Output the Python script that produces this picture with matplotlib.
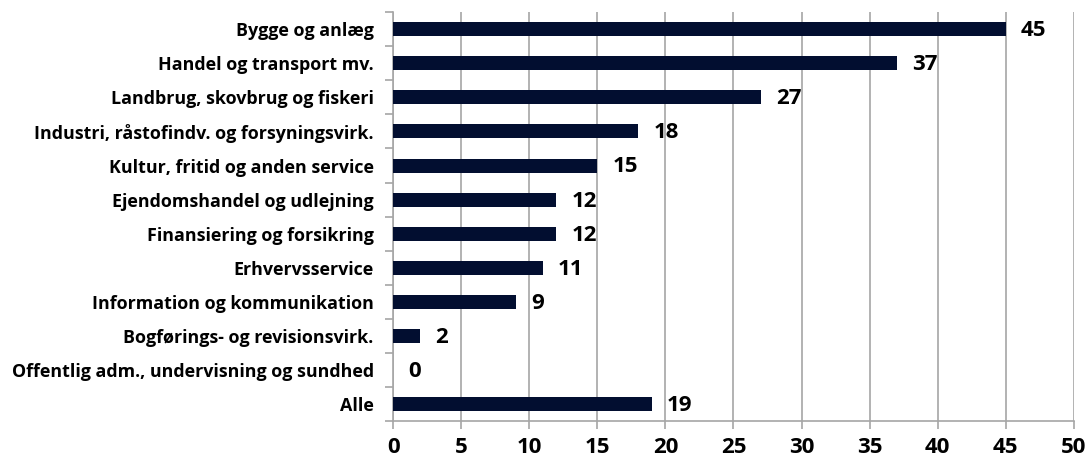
import matplotlib.pyplot as plt
import numpy as np

# data, top to bottom as shown
categories = [
    "Bygge og anlæg",
    "Handel og transport mv.",
    "Landbrug, skovbrug og fiskeri",
    "Industri, råstofindv. og forsyningsvirk.",
    "Kultur, fritid og anden service",
    "Ejendomshandel og udlejning",
    "Finansiering og forsikring",
    "Erhvervsservice",
    "Information og kommunikation",
    "Bogførings- og revisionsvirk.",
    "Offentlig adm., undervisning og sundhed",
    "Alle",
]
values = [45, 37, 27, 18, 15, 12, 12, 11, 9, 2, 0, 19]
x_ticks = [0, 5, 10, 15, 20, 25, 30, 35, 40, 45, 50]

BAR_COLOR = "#020e30"
GRID_COLOR = "#a6a6a6"

plt.rcParams['font.family'] = ['Open Sans', 'DejaVu Sans']

fig = plt.figure(figsize=(10.89, 4.66), dpi=100)
ax = fig.add_axes([0.361, 0.096, 0.625, 0.878])

n = len(categories)
y = np.arange(n)[::-1]
ax.barh(y, values, height=0.41, color=BAR_COLOR, zorder=3)

for yi, v in zip(y, values):
    ax.annotate(str(v), (v, yi), xytext=(11, -1), textcoords='offset points',
                ha='left', va='center', fontsize=16, fontweight='bold', color='black')

ax.set_xlim(0, 50)
ax.set_ylim(-0.5, n - 0.5)
ax.set_xticks(x_ticks)
ax.set_xticklabels([str(t) for t in x_ticks], fontsize=16, fontweight='bold')
ax.set_yticks(y)
ax.set_yticklabels(categories, fontsize=12.85, fontweight='bold')

# category boundary ticks on the y axis
ax.set_yticks(np.arange(n + 1) - 0.5, minor=True)
ax.tick_params(axis='y', which='major', length=0, pad=14)
ax.tick_params(axis='y', which='minor', length=6, color=GRID_COLOR, width=1.2)
ax.tick_params(axis='x', which='major', length=6, color=GRID_COLOR, width=1.2, pad=5)

ax.xaxis.grid(True, color=GRID_COLOR, linewidth=1.2, zorder=0)
for s in ['top', 'right']:
    ax.spines[s].set_visible(False)
ax.spines['left'].set_color(GRID_COLOR)
ax.spines['bottom'].set_color(GRID_COLOR)
ax.spines['left'].set_linewidth(1.2)
ax.spines['bottom'].set_linewidth(1.2)

fig.savefig("out.png", dpi=100)
